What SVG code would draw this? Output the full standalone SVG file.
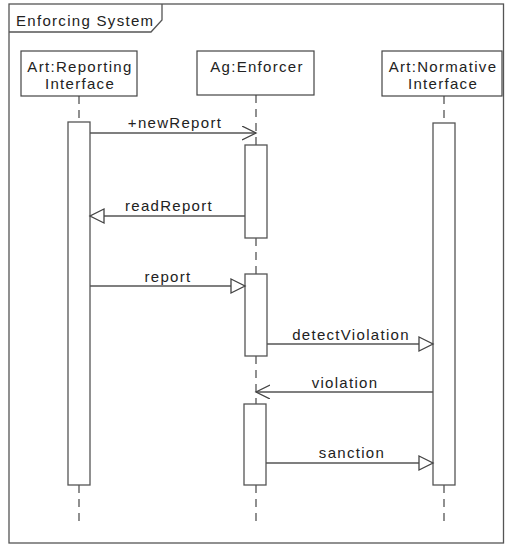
<svg xmlns="http://www.w3.org/2000/svg" width="505" height="545" viewBox="0 0 505 545">
<style>
text{font-family:"Liberation Sans",Arial,sans-serif;font-size:15px;fill:#222;letter-spacing:1.3px}
.c{text-anchor:middle}
.box{fill:#fff;stroke:#444;stroke-width:1.2}
.act{fill:#fff;stroke:#555;stroke-width:1.3}
.life{stroke:#555;stroke-width:1.3;stroke-dasharray:8,6;fill:none}
.msg{stroke:#555;stroke-width:1.3;fill:none}
.frame{fill:none;stroke:#555;stroke-width:1.3}
</style>
<defs>
<marker id="open" markerWidth="16" markerHeight="16" refX="14" refY="7" orient="auto" markerUnits="userSpaceOnUse">
<path d="M0,0 L14,7 L0,14" fill="none" stroke="#444" stroke-width="1.3"/>
</marker>
<marker id="tri" markerWidth="18" markerHeight="18" refX="15" refY="8" orient="auto" markerUnits="userSpaceOnUse">
<path d="M1,1 L15,8 L1,15 Z" fill="#fff" stroke="#444" stroke-width="1.3"/>
</marker>
</defs>
<g id="frame">
<rect class="frame" x="9" y="4" width="494.5" height="539"/>
<path class="frame" d="M9,32 H151 L162,20 V4"/>
<text x="16" y="26">Enforcing System</text>
</g>
<g id="lifelines">
<path class="life" d="M79,96 V122 M79,485 V522"/>
<path class="life" d="M256,95 V145 M256,238 V274 M256,356 V404 M256,485 V522"/>
<path class="life" d="M444,96 V123 M444,485 V522"/>
</g>
<g id="reporting">
<rect class="box" x="21" y="51" width="116" height="45"/>
<text class="c" x="80" y="72">Art:Reporting</text>
<text class="c" x="80" y="89">Interface</text>
<rect class="act" x="68" y="122" width="22" height="363"/>
</g>
<g id="enforcer">
<rect class="box" x="197" y="51" width="117" height="44"/>
<text class="c" x="257" y="72">Ag:Enforcer</text>
<rect class="act" x="245" y="145" width="22" height="93"/>
<rect class="act" x="245" y="274" width="22" height="82"/>
<rect class="act" x="244" y="404" width="22" height="81"/>
</g>
<g id="normative">
<rect class="box" x="382" y="51" width="120" height="45"/>
<text class="c" x="443" y="72">Art:Normative</text>
<text class="c" x="443" y="89">Interface</text>
<rect class="act" x="433" y="123" width="22" height="362"/>
</g>
<g id="connectors">
<line class="msg" x1="90" y1="133" x2="256" y2="133" marker-end="url(#open)"/>
<text class="c" x="175" y="128">+newReport</text>
<line class="msg" x1="245" y1="216" x2="90" y2="216" marker-end="url(#tri)"/>
<text class="c" x="169" y="211">readReport</text>
<line class="msg" x1="90" y1="286" x2="245" y2="286" marker-end="url(#tri)"/>
<text class="c" x="168" y="282">report</text>
<line class="msg" x1="267" y1="344" x2="433" y2="344" marker-end="url(#tri)"/>
<text class="c" x="351" y="340">detectViolation</text>
<line class="msg" x1="433" y1="392" x2="256" y2="392" marker-end="url(#open)"/>
<text class="c" x="345" y="388">violation</text>
<line class="msg" x1="266" y1="463" x2="433" y2="463" marker-end="url(#tri)"/>
<text class="c" x="352" y="458">sanction</text>
</g>
</svg>
